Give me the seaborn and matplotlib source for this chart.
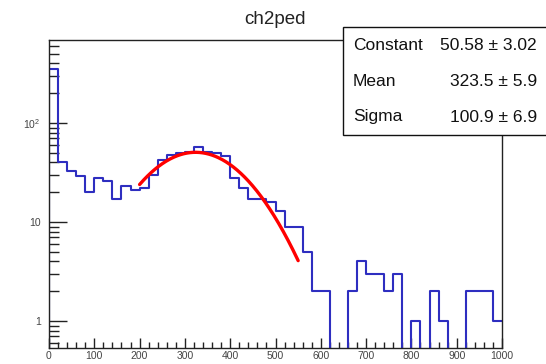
import numpy as np
import pandas as pd
import matplotlib
matplotlib.use("Agg")
import matplotlib.pyplot as plt
import seaborn as sns
from matplotlib.ticker import FixedLocator, MultipleLocator, LogLocator, NullFormatter, FixedFormatter
from matplotlib.patches import Rectangle

# ---------------- data ----------------
title = "ch2ped"
bin_start = 0
bin_width = 20
counts = [350, 40, 33, 29, 20, 28, 26, 17, 23, 21,
          22, 30, 42, 47, 50, 51, 57, 51, 50, 46,
          28, 22, 17, 17, 16, 13, 9, 9, 5, 2,
          2, 0, 0, 2, 4, 3, 3, 2, 3, 0,
          1, 0, 2, 1, 0, 0, 2, 2, 2, 1]
fit_names = ["Constant", "Mean", "Sigma"]
fit_values = [50.58, 323.5, 100.9]
fit_errors = [3.02, 5.9, 6.9]
fit_decimals = [2, 1, 1]
fit_range = [200, 550]
x_ticks = [0, 100, 200, 300, 400, 500, 600, 700, 800, 900, 1000]
y_ticks = [1, 10, 100]
y_tick_labels = ["1", "10", "10$^{2}$"]

# ---------------- style ----------------
sns.set_theme(style="white")
plt.rcParams['font.family'] = ['Liberation Sans', 'DejaVu Sans']
plt.rcParams['mathtext.fontset'] = 'custom'
plt.rcParams['mathtext.rm'] = 'Liberation Sans'
plt.rcParams['mathtext.it'] = 'Liberation Sans'

W, H = 546, 364
fig = plt.figure(figsize=(W / 100, H / 100), dpi=100)
fig.patch.set_facecolor('white')
ax = fig.add_axes([49 / W, 16 / H, 453 / W, 308 / H])
ax.set_yscale('log')

# histogram outline (steps)
edges = bin_start + bin_width * np.arange(len(counts) + 1)
floor = 0.1
vals = [max(c, floor) for c in counts]
hx = [edges[0]] + list(edges[:-1]) + [edges[-1]]
hy = [floor] + vals + [vals[-1]]
hist_df = pd.DataFrame({"x": hx, "y": hy})
sns.lineplot(data=hist_df, x="x", y="y", drawstyle="steps-post", estimator=None,
             sort=False, color="#2e2ec0", lw=1.5, ax=ax)

# gaussian fit curve from fitted parameters
C, mu, sig = fit_values
fx = np.linspace(fit_range[0], fit_range[1], 300)
fy = C * np.exp(-0.5 * ((fx - mu) / sig) ** 2)
fit_df = pd.DataFrame({"x": fx, "y": fy})
sns.lineplot(data=fit_df, x="x", y="y", color="#ff0000", lw=2.4, ax=ax,
             estimator=None, sort=False)

ax.set_xlim(0, 1000)
ax.set_ylim(10 ** (-(348 - 321) / 99), 10 ** ((321 - 40) / 99))
ax.set_xlabel("")
ax.set_ylabel("")

ax.xaxis.set_major_locator(FixedLocator(x_ticks))
ax.xaxis.set_minor_locator(MultipleLocator(20))
ax.yaxis.set_major_locator(FixedLocator(y_ticks))
ax.yaxis.set_major_formatter(FixedFormatter(y_tick_labels))
ax.yaxis.set_minor_locator(LogLocator(base=10, subs=np.arange(2, 10), numticks=20))
ax.yaxis.set_minor_formatter(NullFormatter())

ax.tick_params(axis='x', which='major', direction='in', length=7, width=1,
               color='#222222', labelsize=7.5, labelcolor='#444444', pad=2,
               top=False, bottom=True)
ax.tick_params(axis='x', which='minor', direction='in', length=4, width=1,
               color='#222222', top=False, bottom=True)
ax.tick_params(axis='y', which='major', direction='in', length=13, width=1,
               color='#222222', labelsize=7.5, labelcolor='#444444', pad=6,
               left=True, right=False)
ax.tick_params(axis='y', which='minor', direction='in', length=7, width=1,
               color='#222222', left=True, right=False)
for s in ax.spines.values():
    s.set_color('#222222')
    s.set_linewidth(1.0)
    s.set_visible(True)

# title
fig.text(275 / W, 1 - 19 / H, title, ha='center', va='center', fontsize=13.5,
         color='#222222')

# stats box
bx0, by0, bx1, by1 = 343, 27.5, 570, 135
fig.add_artist(Rectangle((bx0 / W, 1 - by1 / H), (bx1 - bx0) / W, (by1 - by0) / H,
                         transform=fig.transFigure, facecolor='white',
                         edgecolor='#111111', lw=1.0, zorder=10, clip_on=False))
row_y = [46, 82, 117]
for name, v, e, d, ry in zip(fit_names, fit_values, fit_errors, fit_decimals, row_y):
    fig.text(353 / W, 1 - ry / H, name, ha='left', va='center', fontsize=12.5,
             color='#111111', zorder=11)
    fig.text(537 / W, 1 - ry / H, f"{v:.{d}f} \u00b1 {e:.{d}f}", ha='right',
             va='center', fontsize=12.5, color='#111111', zorder=11)

fig.savefig("out.png", dpi=100)
